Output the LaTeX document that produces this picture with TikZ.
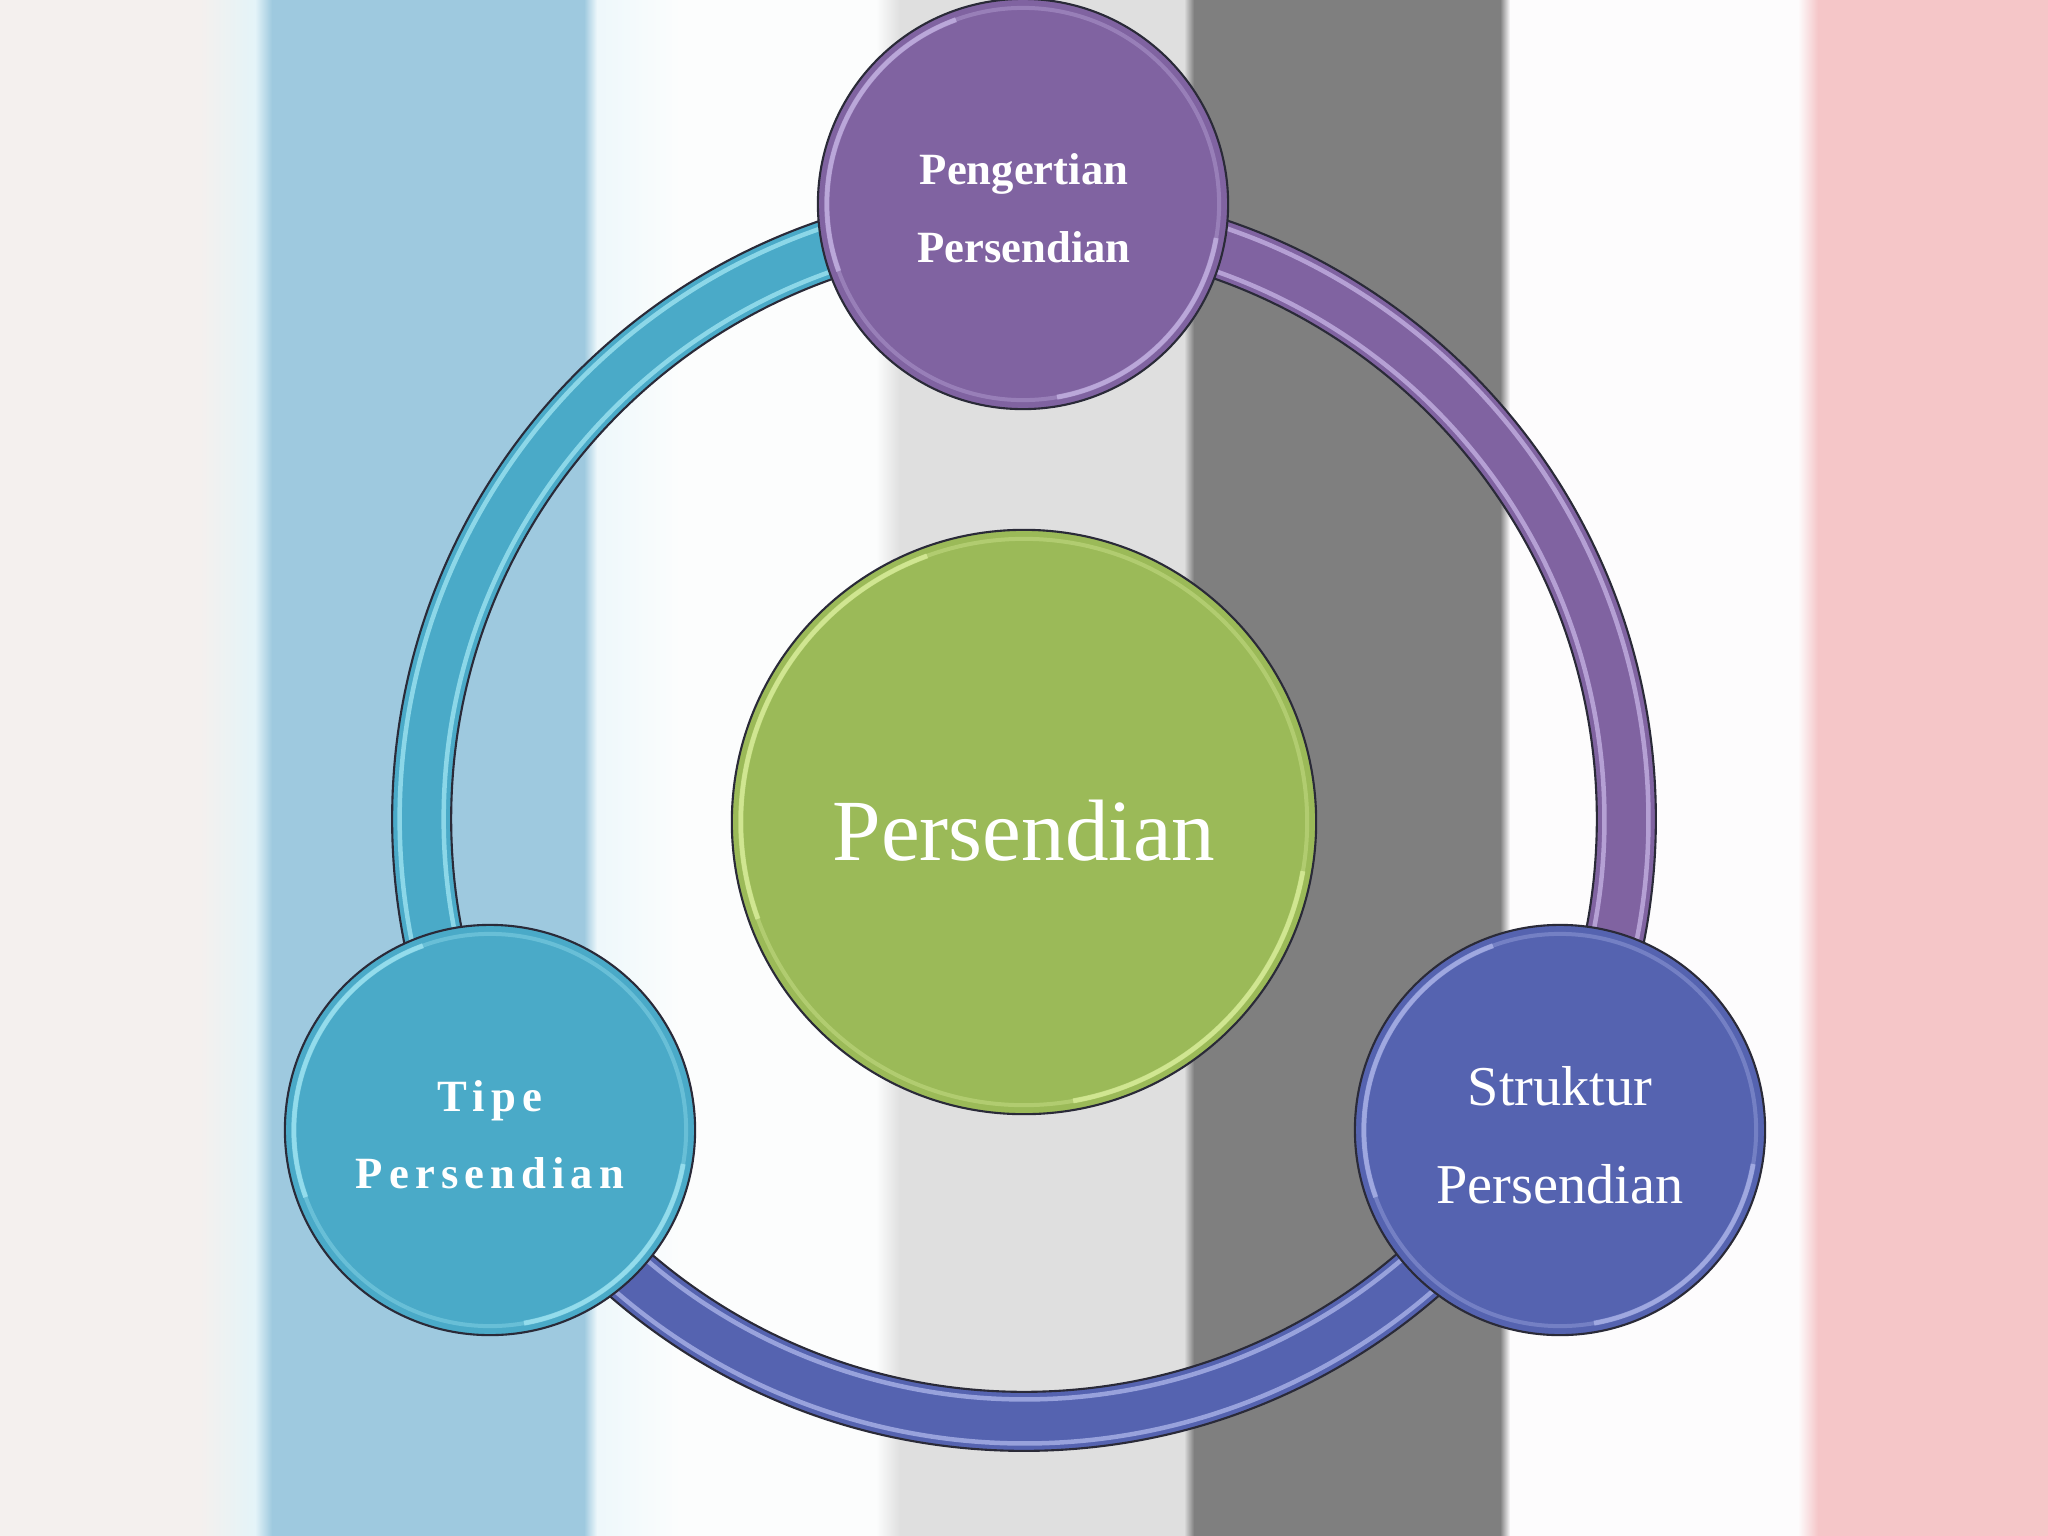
\documentclass[tikz,border=0pt]{standalone}
\usepackage{fontspec}
\setmainfont{Liberation Serif}
\definecolor{paleL}{HTML}{F4F0EE}
\definecolor{cyanW}{HTML}{E4F4F8}
\definecolor{blueS}{HTML}{9EC9DF}
\definecolor{cyanW2}{HTML}{EEF8FB}
\definecolor{whiteB}{HTML}{FCFDFD}
\definecolor{lgray}{HTML}{DFDFDF}
\definecolor{dgray}{HTML}{7F7F7F}
\definecolor{whiteR}{HTML}{FDFCFD}
\definecolor{pinkS}{HTML}{F5C6C8}
\definecolor{outl}{HTML}{2A2A38}
\definecolor{cPurp}{HTML}{8063A1}
\definecolor{cTeal}{HTML}{4AAAC8}
\definecolor{cIndigo}{HTML}{5563B0}
\definecolor{cGreen}{HTML}{9BBA58}
\definecolor{hPurp}{HTML}{D2C2F0}
\definecolor{hTeal}{HTML}{B0F0FA}
\definecolor{hIndigo}{HTML}{BCC4F4}
\definecolor{hGreen}{HTML}{E6F8A8}
\begin{document}
\begin{tikzpicture}[x=0.01cm,y=-0.01cm,
  bub/.style={circle, draw=outl, line width=0.6pt, inner sep=0pt, minimum size=4.1cm},
  ringseg/.style={line width=0.59cm},
  ringhl/.style={line width=0.045cm, opacity=0.65},
  ringol/.style={draw=outl, line width=0.6pt},
  bubhl/.style={line width=0.04cm, opacity=0.3},
  bubhs/.style={line width=0.05cm, opacity=0.6},
  lbl/.style={text=white, anchor=base, inner sep=0pt},
  smallb/.style={font=\fontsize{12.7}{15}\selectfont\bfseries},
  spaced/.style={font=\fontsize{12.7}{15}\selectfont\bfseries\addfontfeature{LetterSpace=13.7}},
  midf/.style={font=\fontsize{16}{19}\selectfont},
  bigf/.style={font=\fontsize{24.8}{28}\selectfont}]
\useasboundingbox (0,0) rectangle (2048,1536);
% background stripes
\fill[paleL] (0,0) rectangle (240,1536);
\shade[left color=paleL, right color=cyanW] (200,0) rectangle (255,1536);
\shade[left color=cyanW, right color=blueS] (255,0) rectangle (272,1536);
\fill[blueS] (272,0) rectangle (584,1536);
\shade[left color=blueS, right color=cyanW2] (584,0) rectangle (597,1536);
\shade[left color=cyanW2, right color=whiteB] (597,0) rectangle (680,1536);
\fill[whiteB] (680,0) rectangle (878,1536);
\shade[left color=whiteB, right color=lgray] (876,0) rectangle (900,1536);
\fill[lgray] (900,0) rectangle (1186,1536);
\shade[left color=lgray, right color=dgray] (1184,0) rectangle (1194,1536);
\fill[dgray] (1194,0) rectangle (1500,1536);
\shade[left color=dgray, right color=whiteR] (1500,0) rectangle (1510,1536);
\fill[whiteR] (1510,0) rectangle (1798,1536);
\shade[left color=whiteR, right color=pinkS] (1798,0) rectangle (1818,1536);
\fill[pinkS] (1818,0) rectangle (2048,1536);
% ring
\coordinate (rc) at (1024,819);
\draw[ringseg, cTeal] (rc) ++(90:6.02cm) arc[start angle=90, end angle=210, radius=6.02cm];
\draw[ringseg, cIndigo] (rc) ++(210:6.02cm) arc[start angle=210, end angle=330, radius=6.02cm];
\draw[ringseg, cPurp] (rc) ++(330:6.02cm) arc[start angle=330, end angle=450, radius=6.02cm];
\foreach \a/\b/\c in {90/210/hTeal, 210/330/hIndigo, 330/450/hPurp}{
  \draw[ringhl, \c] (rc) ++(\a:6.24cm) arc[start angle=\a, end angle=\b, radius=6.24cm];
  \draw[ringhl, \c] (rc) ++(\a:5.80cm) arc[start angle=\a, end angle=\b, radius=5.80cm];
}
\draw[ringol] (rc) circle[radius=6.315cm];
\draw[ringol] (rc) circle[radius=5.725cm];
% bubbles
\node[bub, fill=cGreen, minimum size=5.84cm] (core) at (1024,822) {};
\node[bub, fill=cPurp] (top) at (1023,204) {};
\node[bub, fill=cTeal] (left) at (490,1130) {};
\node[bub, fill=cIndigo] (right) at (1560,1130) {};
\foreach \n/\c/\r in {core/hGreen/2.83cm, top/hPurp/1.96cm, left/hTeal/1.96cm, right/hIndigo/1.96cm}{
  \draw[bubhl, \c] (\n.center) circle[radius=\r];
  \draw[bubhs, \c] (\n.center) ++(110:\r) arc[start angle=110, end angle=200, radius=\r];
  \draw[bubhs, \c] (\n.center) ++(280:\r) arc[start angle=280, end angle=350, radius=\r];
}
% labels
\node[lbl, bigf] (tcore) at (1024,860) {Persendian};
\node[lbl, smallb] (ttop1) at (1024,184) {Pengertian};
\node[lbl, smallb] (ttop2) at (1024,262) {Persendian};
\node[lbl, spaced] (tleft1) at (490,1111) {Tipe};
\node[lbl, spaced] (tleft2) at (490,1188) {Persendian};
\node[lbl, midf] (tright1) at (1560,1105) {Struktur};
\node[lbl, midf] (tright2) at (1560,1203) {Persendian};
\end{tikzpicture}
\end{document}
